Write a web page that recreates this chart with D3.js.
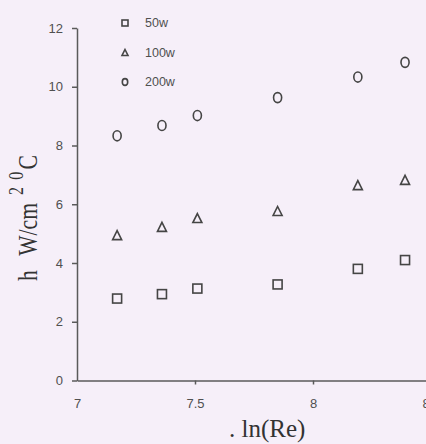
<!DOCTYPE html>
<head>
  <meta charset="utf-8">
  <script src="https://d3js.org/d3.v7.min.js"></script>
  <style>
    body {
      margin: 0;
      background: #f6eff9;
    }
    .axis path, .axis line {
      stroke: #5a5a5a;
      stroke-width: 1.5px;
    }
    .axis text {
      font-family: "Liberation Sans", Arial, sans-serif;
      font-size: 13px;
      fill: #505050;
    }
    .mark {
      fill: none;
      stroke: #454545;
      stroke-width: 1.6px;
    }
    .title {
      font-family: "Liberation Serif", "Times New Roman", serif;
      fill: #333;
    }
  </style>
</head>

<body>
  <svg width="426" height="444"></svg>
  <script>
    // ln(Re) values shared by the three heater powers
    var lnRe = [7.17, 7.36, 7.51, 7.85, 8.19, 8.39];
    var h50 = [2.79, 2.94, 3.13, 3.27, 3.80, 4.10];
    var h100 = [4.95, 5.23, 5.53, 5.77, 6.65, 6.83];
    var h200 = [8.33, 8.68, 9.02, 9.63, 10.33, 10.83];
    var seriesNames = ["50w", "100w", "200w"];
    var xTicks = [7, 7.5, 8, 8.5];
    var yTicks = [0, 2, 4, 6, 8, 10, 12];

    var svg = d3.select("svg");

    var x = d3.scaleLinear().domain([7, 8.5]).range([77, 431]);
    var y = d3.scaleLinear().domain([0, 12]).range([380.5, 28]);

    svg.append("g")
      .attr("class", "axis axis--y")
      .attr("transform", "translate(" + x(7) + ",0)")
      .call(d3.axisLeft(y).tickValues(yTicks).tickSize(5).tickSizeOuter(0).tickPadding(9));

    svg.append("g")
      .attr("class", "axis axis--x")
      .attr("transform", "translate(0," + y(0) + ")")
      .call(d3.axisBottom(x).tickValues(xTicks).tickFormat(d3.format("")).tickSize(4).tickSizeOuter(0).tickPadding(14));

    // the "7" tick sits on the corner
    svg.select(".axis--x .tick line").remove();

    var series = [
      { name: seriesNames[0], values: h50, shape: "square" },
      { name: seriesNames[1], values: h100, shape: "triangle" },
      { name: seriesNames[2], values: h200, shape: "circle" }
    ];

    function drawMark(g, shape, cx, cy, s) {
      if (shape === "square") {
        g.append("rect").attr("class", "mark")
          .attr("x", cx - s / 2).attr("y", cy - s / 2)
          .attr("width", s).attr("height", s);
      } else if (shape === "triangle") {
        g.append("path").attr("class", "mark")
          .attr("d", "M" + cx + "," + (cy - s / 2) +
            "L" + (cx + s / 2) + "," + (cy + s / 2) +
            "L" + (cx - s / 2) + "," + (cy + s / 2) + "Z");
      } else {
        g.append("ellipse").attr("class", "mark")
          .attr("cx", cx).attr("cy", cy)
          .attr("rx", s * 0.45).attr("ry", s * 0.56);
      }
    }

    var marks = svg.append("g");
    series.forEach(function (sr) {
      sr.values.forEach(function (v, i) {
        drawMark(marks, sr.shape, x(lnRe[i]), y(v), 9);
      });
    });

    // legend
    var legend = svg.append("g");
    series.forEach(function (sr, i) {
      var ly = 23 + i * 29.5;
      drawMark(legend, sr.shape, 125, ly, 6);
      legend.append("text")
        .attr("x", 145).attr("y", ly)
        .attr("dy", "0.35em")
        .style("font-family", "Liberation Sans, Arial, sans-serif")
        .style("font-size", "12.5px")
        .style("fill", "#505050")
        .text(sr.name);
    });

    // axis titles (the scan is squashed vertically, so the y title is compressed)
    var yl = svg.append("text")
      .attr("class", "title")
      .attr("transform", "translate(37,281) rotate(-90) scale(0.8,1)")
      .style("font-size", "27px");
    yl.append("tspan").text("h");
    yl.append("tspan").attr("dx", 18).text("W/cm");
    yl.append("tspan").attr("dx", 10).attr("dy", -14).style("font-size", "20px").text("2");
    yl.append("tspan").attr("dx", 9).style("font-size", "20px").text("0");
    yl.append("tspan").attr("dx", 3).attr("dy", 14).text("C");

    svg.append("text")
      .attr("class", "title")
      .attr("x", 229).attr("y", 437)
      .style("font-size", "25px")
      .text(". ln(Re)");
  </script>
</body>
